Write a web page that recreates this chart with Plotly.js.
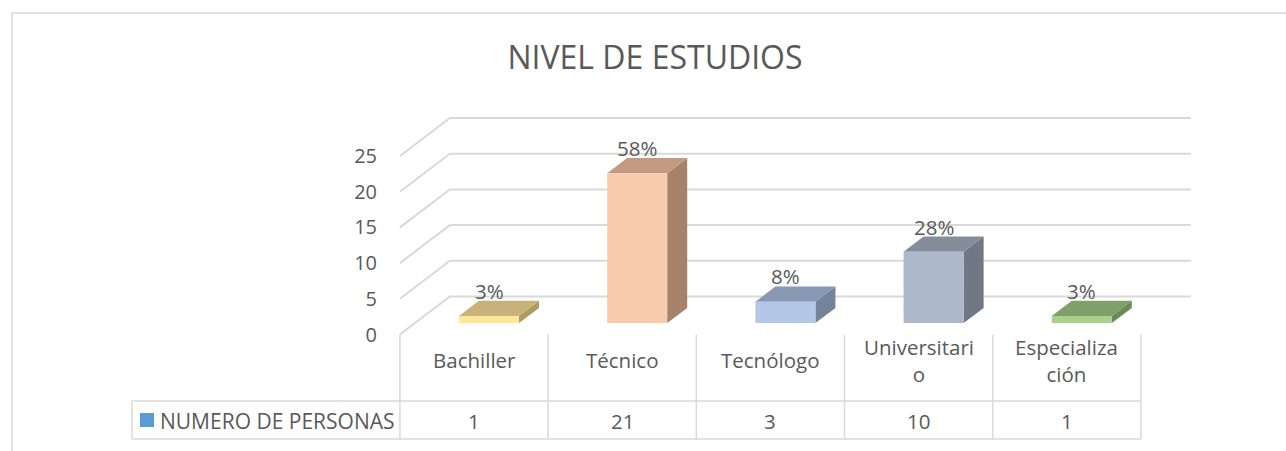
<!DOCTYPE html>
<html>
<head>
<meta charset="utf-8">
<script src="https://cdn.plot.ly/plotly-3.0.1.min.js"></script>
<style>
  html, body { margin: 0; padding: 0; background: #ffffff; }
  #chart { width: 1286px; height: 451px; }
</style>
</head>
<body>
<div id="chart"></div>
<script>
// ---------- data ----------
const categories = ['Bachiller', 'Técnico', 'Tecnólogo', 'Universitario', 'Especialización'];
const headerLabels = ['Bachiller', 'Técnico', 'Tecnólogo', 'Universitari<br>o', 'Especializa<br>ción'];
const personas = [1, 21, 3, 10, 1];
const yTicks = [0, 5, 10, 15, 20, 25];
const seriesName = 'NUMERO DE PERSONAS';
const chartTitle = 'NIVEL DE ESTUDIOS';

// ---------- styles ----------
const frontColors = ['#FFE699', '#F8CBAD', '#B4C7E7', '#ADB9CA', '#A9D18E'];
const topColors   = ['#C9B27A', '#C39A80', '#8898B3', '#848D9A', '#7F9F6B'];
const sideColors  = ['#B09A60', '#A6826B', '#738399', '#6F7884', '#6B8A59'];
const textColor = '#595959';
const lineColor = '#D9D9D9';
const FONT = 'Open Sans, Lato, sans-serif';

// ---------- geometry (layout only) ----------
const W = 1286, H = 451;
const X0PX = 474, PX_PER_CAT = 148.2;   // front plane category centres
const Y0PX = 334.5, PX_PER_UNIT = 7.14; // front plane value 0
const xp = px => (px - X0PX) / PX_PER_CAT;
const yp = py => (Y0PX - py) / PX_PER_UNIT;
const DX = 50 / PX_PER_CAT, DY = 38 / PX_PER_UNIT; // full floor depth
const F0 = 0.3, F1 = 0.7;          // bar depth fractions
const HALF = 0.2025;               // half bar width (category units)
const nCat = categories.length;
const total = personas.reduce((a, b) => a + b, 0);

const traces = [];

// chart border (top + left)
traces.push({
  x: [xp(W), xp(12), xp(12)], y: [yp(13), yp(13), yp(H)],
  mode: 'lines', line: {color: lineColor, width: 1.5}, hoverinfo: 'skip', showlegend: false
});

// gridlines on side wall + back wall
{
  const gx = [], gy = [];
  yTicks.forEach(t => {
    gx.push(-0.5, -0.5 + DX, nCat - 0.5 + DX, null);
    gy.push(t, t + DY, t + DY, null);
  });
  traces.push({x: gx, y: gy, mode: 'lines', line: {color: lineColor, width: 2},
    hoverinfo: 'skip', showlegend: false});
}

// data table lines
{
  const tx = [], ty = [];
  const rowTop = yp(401), rowBot = yp(439), left = xp(132);
  for (let k = 0; k <= nCat; k++) { tx.push(k - 0.5, k - 0.5, null); ty.push(0, rowBot, null); }
  tx.push(left, nCat - 0.5, null, left, nCat - 0.5, null, left, left, null);
  ty.push(rowTop, rowTop, null, rowBot, rowBot, null, rowTop, rowBot, null);
  traces.push({x: tx, y: ty, mode: 'lines', line: {color: lineColor, width: 1.5},
    hoverinfo: 'skip', showlegend: false});
}

// 3D bars
personas.forEach((v, k) => {
  const cx = k + F0 * DX;
  const xl = cx - HALF, xr = cx + HALF;
  const b = F0 * DY;
  const dx = (F1 - F0) * DX, dy = (F1 - F0) * DY;
  const top = b + v;
  // side face
  traces.push({x: [xr, xr + dx, xr + dx, xr, xr], y: [b, b + dy, top + dy, top, b],
    mode: 'lines', fill: 'toself', fillcolor: sideColors[k], line: {width: 0},
    hoverinfo: 'skip', showlegend: false});
  // top face
  traces.push({x: [xl, xr, xr + dx, xl + dx, xl], y: [top, top, top + dy, top + dy, top],
    mode: 'lines', fill: 'toself', fillcolor: topColors[k], line: {width: 0},
    hoverinfo: 'skip', showlegend: false});
  // front face
  traces.push({x: [xl, xr, xr, xl, xl], y: [b, b, top, top, b],
    mode: 'lines', fill: 'toself', fillcolor: frontColors[k], line: {width: 0},
    name: categories[k], hoverinfo: 'skip', showlegend: false});
});

// legend key of data table
traces.push({x: [xp(147)], y: [yp(420)], mode: 'markers',
  marker: {symbol: 'square', size: 14, color: '#5B9BD5'}, name: seriesName,
  hoverinfo: 'skip', showlegend: false});

const annotations = [];
personas.forEach((v, k) => {
  annotations.push({
    x: k + F0 * DX, y: F1 * DY + v, xref: 'x', yref: 'y',
    text: Math.round(v / total * 100) + '%', showarrow: false,
    yanchor: 'middle', yshift: 10,
    font: {family: FONT, size: 20.5, color: textColor}
  });
  annotations.push({
    x: k, y: yp(360), xref: 'x', yref: 'y', text: headerLabels[k], showarrow: false,
    yanchor: 'middle', font: {family: FONT, size: 20.5, color: textColor}
  });
  annotations.push({
    x: k, y: yp(421), xref: 'x', yref: 'y', text: String(v), showarrow: false,
    yanchor: 'middle', font: {family: FONT, size: 20.5, color: textColor}
  });
});
annotations.push({
  x: xp(158), y: yp(420.5), xref: 'x', yref: 'y', text: seriesName, showarrow: false,
  xanchor: 'left', yanchor: 'middle', font: {family: FONT, size: 21, color: textColor}
});

const layout = {
  width: W, height: H,
  margin: {l: 0, r: 0, t: 0, b: 0, pad: 0},
  paper_bgcolor: '#ffffff', plot_bgcolor: '#ffffff',
  title: {text: chartTitle, x: 655 / W, xanchor: 'center', xref: 'paper',
    y: 1 - 58 / H, yanchor: 'middle', yref: 'container',
    font: {family: FONT, size: 32, color: textColor}},
  xaxis: {range: [xp(0), xp(W)], visible: false, fixedrange: true},
  yaxis: {range: [yp(H), yp(0)], anchor: 'free', position: 400 / W,
    tickvals: yTicks, ticktext: yTicks.map(String), ticks: '',
    showgrid: false, zeroline: false, showline: false, fixedrange: true,
    ticklabelstandoff: 23,
    tickfont: {family: FONT, size: 20, color: textColor}},
  showlegend: false,
  hovermode: false,
  annotations: annotations
};

Plotly.newPlot('chart', traces, layout, {displayModeBar: false, staticPlot: true});
</script>
</body>
</html>
